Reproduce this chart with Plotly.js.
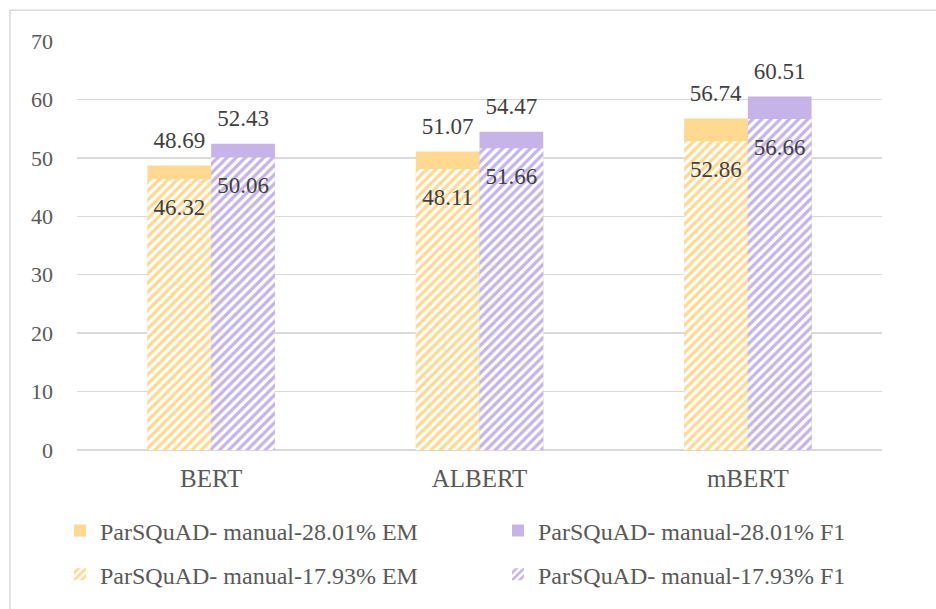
<!DOCTYPE html>
<html>
<head>
<meta charset="utf-8">
<script src="https://cdn.plot.ly/plotly-3.0.1.min.js"></script>
<style>html,body{margin:0;padding:0;background:#fff;}#chart{width:936px;height:609px;}</style>
</head>
<body>
<div id="chart"></div>
<script>
const categories = ['BERT', 'ALBERT', 'mBERT'];
const em28 = [48.69, 51.07, 56.74];
const f128 = [52.43, 54.47, 60.51];
const em17 = [46.32, 48.11, 52.86];
const f117 = [50.06, 51.66, 56.66];
const seriesNames = [
  'ParSQuAD- manual-28.01% EM',
  'ParSQuAD- manual-28.01% F1',
  'ParSQuAD- manual-17.93% EM',
  'ParSQuAD- manual-17.93% F1'
];
const yTicks = [0, 10, 20, 30, 40, 50, 60, 70];

const YELLOW = '#FFD98F';
const PURPLE = '#C6B4E8';
const SERIF = 'Liberation Serif, serif';
// small base size sets the spacing of the padding lines; the number itself is 23px
const labelFont = {family: SERIF, size: 9.8, color: '#404040'};

function solid(y, name, color, grp) {
  return {
    type: 'bar', x: categories, y: y, name: name, offsetgroup: grp,
    marker: {color: color, line: {width: 0}},
    text: y.map(v => v.toFixed(2)), textposition: 'outside',
    texttemplate: '<span style="font-size:23px">%{text}</span><br>&nbsp;',
    textfont: labelFont, outsidetextfont: labelFont,
    constraintext: 'none', cliponaxis: false, legend: 'legend',
    hoverinfo: 'skip'
  };
}
function hatched(y, name, color, grp) {
  return {
    type: 'bar', x: categories, y: y, name: name, offsetgroup: grp,
    marker: {color: color, line: {width: 0},
      pattern: {shape: '/', fgcolor: color, bgcolor: '#ffffff', size: 6.5, solidity: 0.5}},
    text: y.map(v => v.toFixed(2)), textposition: 'inside', insidetextanchor: 'end',
    texttemplate: '&nbsp;<br>&nbsp;<br><span style="font-size:23px">%{text}</span>',
    textfont: Object.assign({}, labelFont, {size: 9.5}),
    insidetextfont: Object.assign({}, labelFont, {size: 9.5}),
    constraintext: 'none', cliponaxis: false, legend: 'legend2',
    hoverinfo: 'skip'
  };
}

const data = [
  solid(em28, seriesNames[0], YELLOW, 'em'),
  solid(f128, seriesNames[1], PURPLE, 'f1'),
  hatched(em17, seriesNames[2], YELLOW, 'em'),
  hatched(f117, seriesNames[3], PURPLE, 'f1')
];

const tickFont = {family: SERIF, size: 22, color: '#595959'};
const legendCommon = {
  orientation: 'h', xanchor: 'left', yanchor: 'middle',
  x: -0.019, bgcolor: 'rgba(0,0,0,0)',
  font: {family: SERIF, size: 24, color: '#595959'},
  entrywidth: 393, entrywidthmode: 'pixels', itemwidth: 30,
  traceorder: 'normal'
};

const layout = {
  width: 936, height: 609,
  margin: {l: 77, r: 54, t: 41, b: 157},
  paper_bgcolor: '#ffffff', plot_bgcolor: '#ffffff',
  barmode: 'group', bargap: 0.525, bargroupgap: 0,
  showlegend: true,
  xaxis: {
    type: 'category', tickfont: {family: SERIF, size: 25, color: '#595959'},
    showgrid: false, showline: false, ticks: '', ticklabelstandoff: 11,
    fixedrange: true
  },
  yaxis: {
    range: [0, 70], tickvals: yTicks, tickfont: tickFont,
    showgrid: true, gridcolor: '#d9d9d9', gridwidth: 1.4,
    zeroline: true, zerolinecolor: '#d9d9d9', zerolinewidth: 1.4,
    showline: false, ticks: '', ticklabelstandoff: 23, fixedrange: true
  },
  yaxis2: {
    range: [0, 70], tickvals: yTicks, tickfont: tickFont,
    overlaying: 'y', side: 'right', anchor: 'x',
    showgrid: false, zeroline: false, showline: false, ticks: '',
    ticklabelstandoff: 19, fixedrange: true
  },
  legend: Object.assign({}, legendCommon, {y: -0.198}),
  legend2: Object.assign({}, legendCommon, {y: -0.305}),
  shapes: [{
    type: 'rect', xref: 'paper', yref: 'paper',
    x0: -0.0832, x1: 1.3, y0: -0.6, y1: 1.0754,
    line: {color: '#d9d9d9', width: 1.5}, fillcolor: 'rgba(0,0,0,0)', layer: 'below'
  }]
};

Plotly.newPlot('chart', data, layout, {staticPlot: true, displayModeBar: false});
</script>
</body>
</html>
